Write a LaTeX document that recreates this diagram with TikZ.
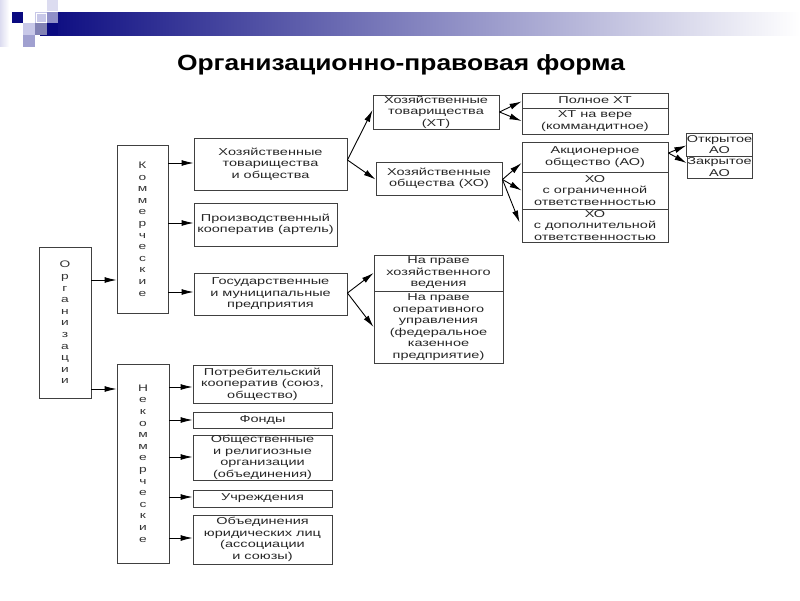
\documentclass[tikz,border=0pt]{standalone}
\usepackage{fontspec}
\setmainfont[FakeStretch=1.45]{Liberation Sans}
\newfontfamily\titlefont[FakeStretch=1.2]{Liberation Sans}
\usetikzlibrary{arrows.meta,calc}
\definecolor{navy}{RGB}{10,10,128}
\definecolor{lav1}{RGB}{200,200,232}
\definecolor{lav2}{RGB}{144,144,200}
\definecolor{lav3}{RGB}{160,160,208}
\definecolor{lav4}{RGB}{220,220,240}
\tikzset{
  box/.style={draw=black!75, line width=0.9pt, inner sep=0pt, align=center,
    text=black!85, font=\fontsize{10}{11.5}\selectfont},
  vbox/.style={draw=black!75, line width=0.9pt, inner sep=0pt, align=center,
    text=black!80, font=\fontsize{9.5}{11.6}\selectfont},
  arr/.style={draw=black, line width=0.9pt, -{Latex[length=12pt,width=6pt]}}
}
\begin{document}
\begin{tikzpicture}[x=1pt,y=-1pt]
\useasboundingbox (0,0) rectangle (800,600);
% decoration
\shade[left color=lav4, right color=white] (0,0) rectangle (9,46);
\shade[left color=navy, right color=white] (40,12) rectangle (800,35);
\fill[navy] (12,12) rectangle (23,23);
\fill[lav4] (47,0) rectangle (58,11);
\fill[lav1] (35,12) rectangle (47,23);
\draw[white, line width=0.8pt] (36,13) rectangle (46,22);
\fill[lav2] (47,12) rectangle (58,23);
\fill[lav1] (23,23) rectangle (35,35);
\fill[lav2!90!black] (35,23) rectangle (47,35);
\fill[navy] (47,23) rectangle (58,35);
\fill[lav3] (23,35) rectangle (35,47);
% title
\node[font=\titlefont\bfseries\fontsize{22}{24}\selectfont] (title) at (401,65) {Организационно-правовая форма};
% left column
\node[vbox, minimum width=52pt, minimum height=151pt] (org) at (65,322.5)
  {О\\р\\г\\а\\н\\и\\з\\а\\ц\\и\\и};
\node[vbox, minimum width=51pt, minimum height=168pt] (kom) at (142.5,229)
  {К\\о\\м\\м\\е\\р\\ч\\е\\с\\к\\и\\е};
\node[vbox, minimum width=52pt, minimum height=199pt] (nekom) at (143,463.5)
  {Н\\е\\к\\о\\м\\м\\е\\р\\ч\\е\\с\\к\\и\\е};
% column 3
\node[box, minimum width=153pt, minimum height=52pt] (hto) at (270.5,164)
  {Хозяйственные\\товарищества\\и общества};
\node[box, minimum width=143pt, minimum height=43pt] (pk) at (265.5,224.5)
  {Производственный\\кооператив (артель)};
\node[box, minimum width=153pt, minimum height=42pt] (gmp) at (270.5,294)
  {Государственные\\и муниципальные\\предприятия};
\node[box, minimum width=139pt, minimum height=38pt] (potr) at (262.5,384)
  {Потребительский\\кооператив (союз,\\общество)};
\node[box, minimum width=139pt, minimum height=16pt] (fond) at (262.5,420) {Фонды};
\node[box, minimum width=139pt, minimum height=45pt] (obsh) at (262.5,457.5)
  {Общественные\\и религиозные\\организации\\(объединения)};
\node[box, minimum width=139pt, minimum height=17pt] (uchr) at (262.5,498.5) {Учреждения};
\node[box, minimum width=139pt, minimum height=49pt] (obed) at (262.5,539.5)
  {Объединения\\юридических лиц\\(ассоциации\\и союзы)};
% column 4
\node[box, minimum width=126pt, minimum height=34pt] (ht) at (436,112)
  {Хозяйственные\\товарищества\\(ХТ)};
\node[box, minimum width=126pt, minimum height=33pt] (ho) at (439,178.5)
  {Хозяйственные\\общества (ХО)};
\node[box, minimum width=129pt, minimum height=36pt] (phv) at (438.5,273)
  {На праве\\хозяйственного\\ведения};
\node[box, minimum width=129pt, minimum height=72pt] (pou) at (438.5,327)
  {На праве\\оперативного\\управления\\(федеральное\\казенное\\предприятие)};
% column 5
\node[box, minimum width=146pt, minimum height=15pt] (pht) at (595,100.5) {Полное ХТ};
\node[box, minimum width=146pt, minimum height=26pt] (htv) at (595,121)
  {ХТ на вере\\(коммандитное)};
\node[box, minimum width=146pt, minimum height=30pt] (ao) at (595,157)
  {Акционерное\\общество (АО)};
\node[box, minimum width=146pt, minimum height=37pt] (hoo) at (595,190.5)
  {ХО\\с ограниченной\\ответственностью};
\node[box, minimum width=146pt, minimum height=33pt] (hod) at (595,225.5)
  {ХО\\с дополнительной\\ответственностью};
% column 6
\node[box, minimum width=65pt, minimum height=23pt] (oao) at (719.5,144.5) {Открытое\\АО};
\node[box, minimum width=65pt, minimum height=22pt] (zao) at (719.5,167) {Закрытое\\АО};
% helper coordinates
\coordinate (y280) at (0,280);
\coordinate (y390) at (0,389);
\coordinate (y163) at (0,163);
\coordinate (y223) at (0,223);
\coordinate (y292) at (0,292);
\coordinate (y387) at (0,387);
\coordinate (y420) at (0,420);
\coordinate (y457) at (0,457);
\coordinate (y497) at (0,497);
\coordinate (y538) at (0,538);
% arrows
\draw[arr] (org.east |- y280) -- (kom.west |- y280);
\draw[arr] (org.east |- y390) -- (nekom.west |- y390);
\draw[arr] (kom.east |- y163) -- (hto.west |- y163);
\draw[arr] (kom.east |- y223) -- (pk.west |- y223);
\draw[arr] (kom.east |- y292) -- (gmp.west |- y292);
\draw[arr] (nekom.east |- y387) -- (potr.west |- y387);
\draw[arr] (nekom.east |- y420) -- (fond.west |- y420);
\draw[arr] (nekom.east |- y457) -- (obsh.west |- y457);
\draw[arr] (nekom.east |- y497) -- (uchr.west |- y497);
\draw[arr] (nekom.east |- y538) -- (obed.west |- y538);
% fans
\coordinate (hs) at ($(hto.east)+(0,-4)$);
\draw[arr] (hs) -- ($(ht.west)+(0,-2)$);
\draw[arr] (hs) -- ($(ho.west)+(0,1)$);
\coordinate (ts) at (ht.east);
\draw[arr] (ts) -- ($(pht.south west)+(0,-7)$);
\draw[arr] (ts) -- (htv.west);
\coordinate (os) at ($(ho.east)+(0,1)$);
\draw[arr] (os) -- ($(ao.west)+(0,6)$);
\draw[arr] (os) -- (hoo.west);
\draw[arr] (os) -- ($(hod.west)+(-2,-3)$);
\coordinate (gs) at ($(gmp.east)+(0,-1)$);
\draw[arr] (gs) -- (phv.west);
\draw[arr] (gs) -- (pou.west);
\coordinate (as) at ($(ao.east)+(0,-4)$);
\draw[arr] (as) -- ($(oao.west)+(0,1)$);
\draw[arr] (as) -- ($(zao.west)+(0,-4)$);
\end{tikzpicture}
\end{document}
